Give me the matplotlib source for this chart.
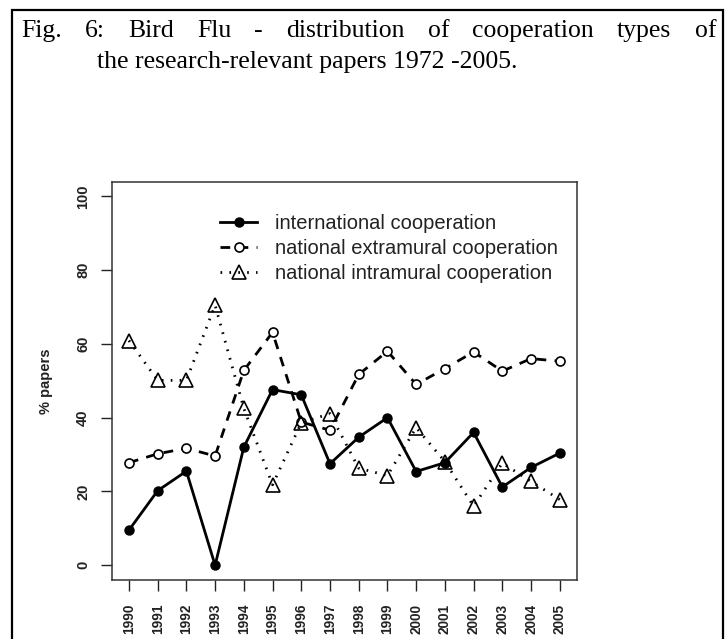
import matplotlib
matplotlib.use("Agg")
import matplotlib.pyplot as plt
from matplotlib.patches import Rectangle

years = list(range(1990, 2006))
international = [9.5, 20.2, 25.5, 0, 32, 47.6, 46.2, 27.5, 34.7, 40, 25.4, 27.8, 36, 21.2, 26.5, 30.4]
extramural = [27.8, 30.2, 31.7, 29.6, 52.8, 63.1, 38.8, 36.6, 51.7, 58.0, 49.0, 53.3, 57.8, 52.6, 56.0, 55.3]
intramural = [60.9, 50.1, 50.1, 70.5, 42.5, 21.8, 38.6, 41.1, 26.3, 24.3, 37.3, 28.1, 16.0, 27.7, 22.7, 17.8]
labels = ["international cooperation", "national extramural cooperation", "national intramural cooperation"]
yticks = [0, 20, 40, 60, 80, 100]

W, H = 727, 639
fig = plt.figure(figsize=(W / 100, H / 100), dpi=100)

# outer frame of the figure caption box
fig.patches.append(Rectangle((12 / W, -0.02), (723 - 12) / W, 1.02 - 10 / H,
                             transform=fig.transFigure, fill=False,
                             edgecolor="black", linewidth=1.6))

# caption, first line justified
serif = "Liberation Serif"
words = "Fig. 6: Bird Flu - distribution of cooperation types of".split()
x0, x1, base1 = 21, 716, 37
r = fig.canvas.get_renderer()
txts = [fig.text(0, 1 - base1 / H, w, family=serif, fontsize=18.5, va="baseline") for w in words]
widths = [t.get_window_extent(r).width for t in txts]
gap = (x1 - x0 - sum(widths)) / (len(words) - 1)
x = x0
for t, w in zip(txts, widths):
    t.set_x(x / W)
    x += w + gap
fig.text(97 / W, 1 - 68 / H, "the research-relevant papers 1972 -2005.",
         family=serif, fontsize=18.5, va="baseline")

ax = fig.add_axes([111.7 / W, 1 - 580 / H, (577 - 111.7) / W, (580 - 181.5) / H])
ax.plot(years, international, color="black", lw=2, marker="o", ms=6.5,
        label=labels[0])
ax.plot(years, extramural, color="black", lw=2, ls=(0, (3.5, 3)), marker="o", ms=6.5,
        mfc="white", mew=1.2, label=labels[1])
ax.plot(years, intramural, color="black", lw=2, ls=(0, (0.6, 2.6)), marker="^", ms=10,
        mfc="none", mew=1.2, label=labels[2])

ax.set_xlim(1989.4, 2005.6)
ax.set_ylim(-4, 104)
ax.set_xticks(years)
ax.set_xticklabels([str(y) for y in years], rotation=90, fontsize=9.8,
                   fontweight="bold", family="Liberation Sans", va="top")
ax.set_yticks(yticks)
ax.set_yticklabels([str(v) for v in yticks], rotation=90, fontsize=10.5,
                   fontweight="bold", family="Liberation Sans", va="center")
ax.tick_params(axis="x", length=8, width=1, pad=9, colors="#222")
ax.tick_params(axis="y", length=8, width=1, pad=7.5, colors="#222")
for s in ax.spines.values():
    s.set_color("#333")
    s.set_linewidth(1.1)
ax.set_ylabel("% papers", fontsize=10.5, fontweight="bold",
              family="Liberation Sans", color="#222", labelpad=17)

leg = ax.legend(loc="upper left", bbox_to_anchor=(220 / W, 1 - 214 / H),
                bbox_transform=fig.transFigure, frameon=False, borderpad=0,
                borderaxespad=0, handlelength=1.85, handletextpad=0.9,
                labelspacing=0.3, prop={"family": "Liberation Sans", "size": 14.5})
for t in leg.get_texts():
    t.set_color("#222")

fig.savefig("out.png", dpi=100)
